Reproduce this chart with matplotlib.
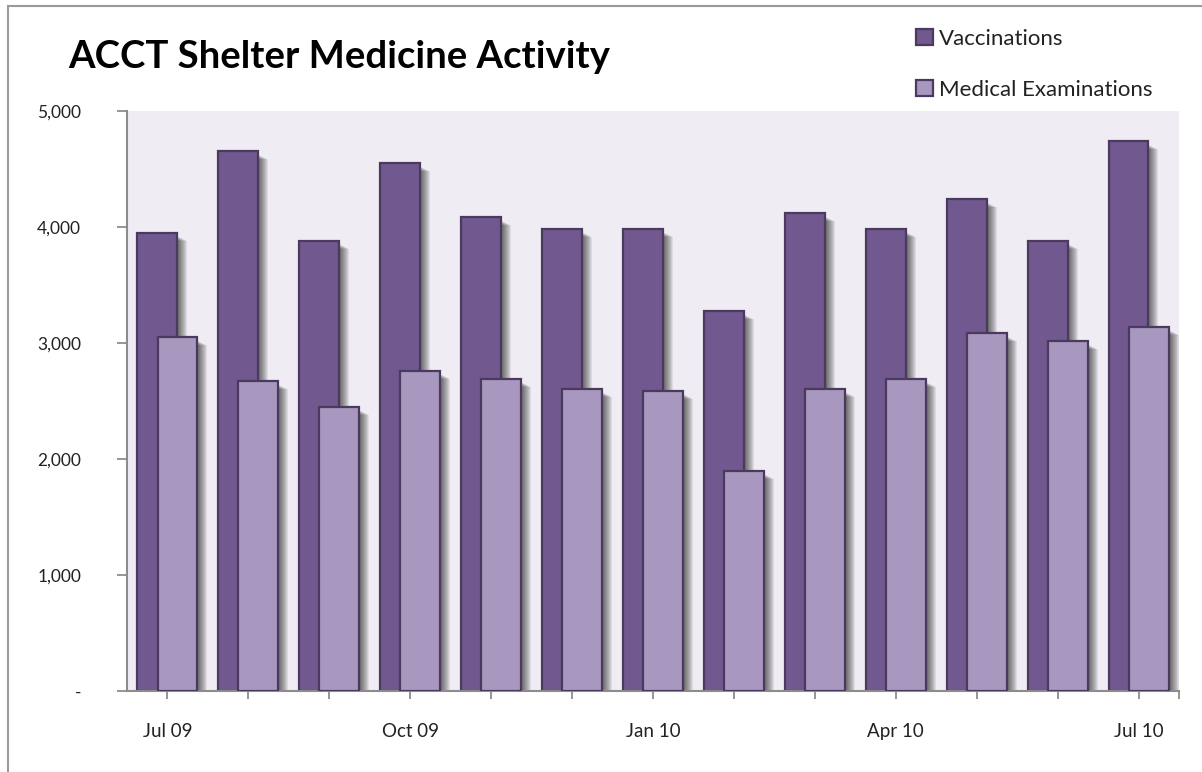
import matplotlib
matplotlib.use("Agg")
import matplotlib.pyplot as plt
from matplotlib.patches import Rectangle
import numpy as np

plt.rcParams['font.family'] = ['Lato', 'DejaVu Sans']

months = ["Jul 09", "Aug 09", "Sep 09", "Oct 09", "Nov 09", "Dec 09", "Jan 10",
          "Feb 10", "Mar 10", "Apr 10", "May 10", "Jun 10", "Jul 10"]
vaccinations = [3950, 4655, 3880, 4550, 4085, 3985, 3985, 3275, 4120, 3985, 4240, 3880, 4740]
medical_exams = [3050, 2670, 2450, 2760, 2690, 2605, 2590, 1900, 2605, 2690, 3085, 3015, 3140]
shown_labels = {0: "Jul 09", 3: "Oct 09", 6: "Jan 10", 9: "Apr 10", 12: "Jul 10"}

W, H = 1202, 772
fig = plt.figure(figsize=(W / 100, H / 100), dpi=100)
fig.patch.set_facecolor("white")

# outer frame
fig.add_artist(Rectangle((8 / W, -0.05), 1.2, (1 - 6 / H) + 0.05, transform=fig.transFigure,
                         fill=False, edgecolor="#9a9a9a", linewidth=1.5))

ax = fig.add_axes([127 / W, 1 - 691 / H, (1179 - 127) / W, (691 - 111) / H])
ax.set_facecolor("#efedf3")

vcol = "#71588f"
mcol = "#a898bf"
ecol = "#4a3a5e"
width = 0.494
off = 0.124
x = np.arange(len(months))

pxx = 13 / 1052.0
pxy = 5000 / 580.0

def shadow(xc, h):
    left = xc - width / 2
    for k in range(1, 11):
        ax.add_patch(Rectangle((left + k * pxx, 0), width, h - (3 + k * 0.5) * pxy,
                               facecolor="black", alpha=0.075, edgecolor="none", zorder=1))

for i in range(len(months)):
    shadow(x[i] - off, vaccinations[i])
ax.bar(x - off, vaccinations, width=width, color=vcol, edgecolor=ecol, linewidth=1.6,
       zorder=2, label="Vaccinations")
for i in range(len(months)):
    shadow(x[i] + off, medical_exams[i])
ax.bar(x + off, medical_exams, width=width, color=mcol, edgecolor=ecol, linewidth=1.6,
       zorder=4, label="Medical Examinations")

ax.set_xlim(-0.5, 12.5)
ax.set_ylim(0, 5000)
ax.set_yticks([0, 1000, 2000, 3000, 4000, 5000])
ax.set_yticklabels(["-", "1,000", "2,000", "3,000", "4,000", "5,000"])
ax.set_xticks(list(x) + [12.5])
ax.set_xticklabels([shown_labels.get(i, "") for i in range(len(months))] + [""])

for s in ["top", "right"]:
    ax.spines[s].set_visible(False)
for s in ["left", "bottom"]:
    ax.spines[s].set_color("#8c8c8c")
    ax.spines[s].set_linewidth(1.5)
ax.tick_params(axis="y", length=7, width=1.3, color="#8c8c8c", labelsize=12.5, labelcolor="#222222", pad=26)
ax.tick_params(axis="x", length=6, width=1.3, color="#8c8c8c", labelsize=13.5, labelcolor="#222222", pad=17)

fig.text(68 / W, 1 - 57 / H, "ACCT Shelter Medicine Activity", fontsize=27.5, fontweight="bold",
         va="center", ha="left", color="black")

leg = fig.legend(loc="upper left", bbox_to_anchor=(907 / W, 1 - 20 / H), frameon=False,
                 fontsize=16, handlelength=0.75, handleheight=0.75, handletextpad=0.3,
                 labelspacing=1.4, borderaxespad=0)
for t in leg.get_texts():
    t.set_color("#222222")

fig.savefig("out.png", dpi=100)
